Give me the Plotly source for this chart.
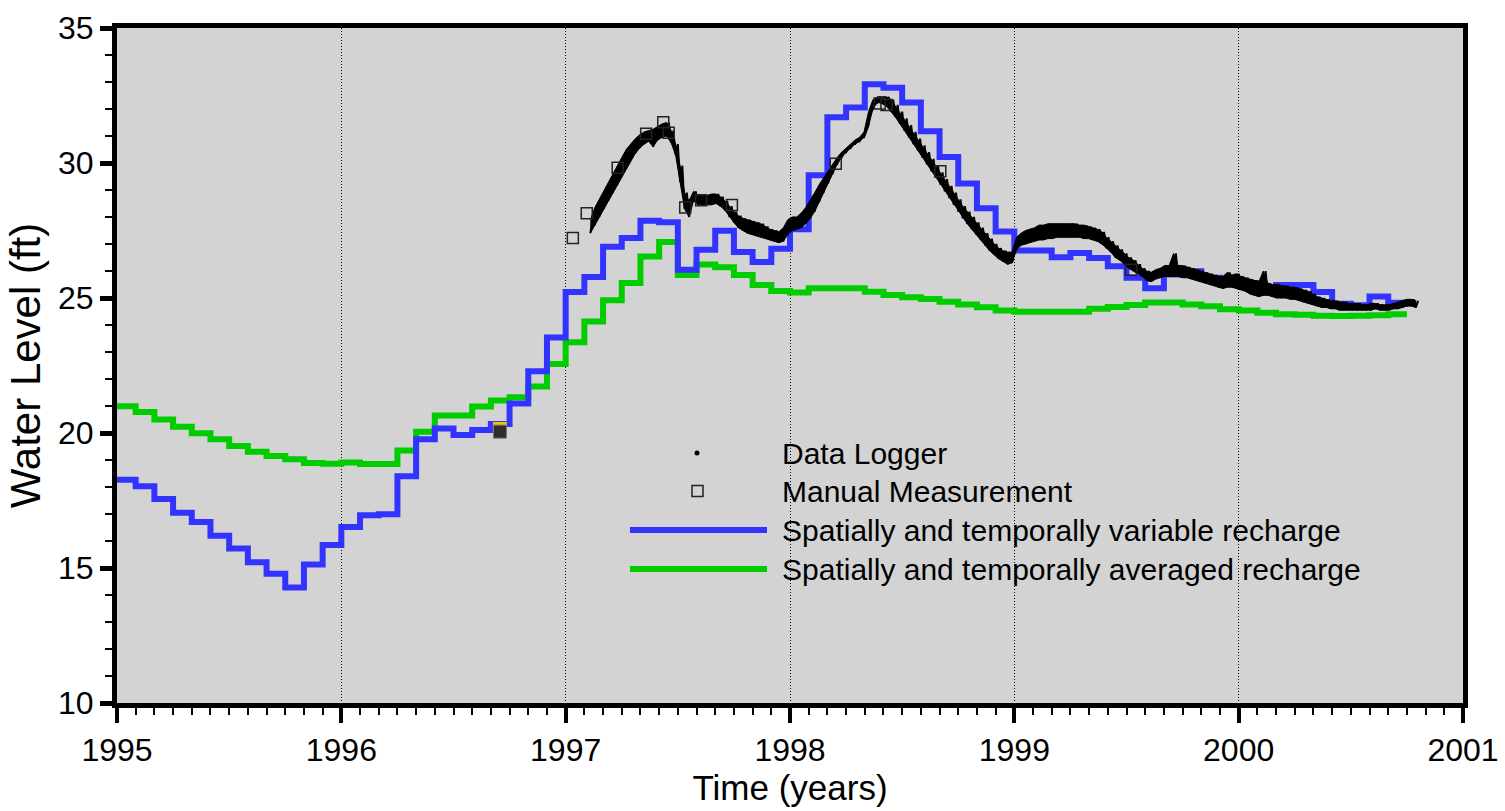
import plotly.graph_objects as go

# ---------------- data ----------------
years = [1995, 1996, 1997, 1998, 1999, 2000, 2001]

# monthly model stress periods, Jan 1995 .. Sep 2000 (value held for each month)
variable_recharge = [
    18.27, 18.03, 17.56, 17.05, 16.70, 16.19, 15.72, 15.21, 14.79, 14.28,
    15.13, 15.85, 16.52, 16.95, 16.99, 18.40, 19.77, 20.17, 19.93, 20.11,
    20.33, 21.09, 22.29, 23.54, 25.22, 25.78, 26.90, 27.22, 27.86, 27.81,
    26.05, 26.79, 27.49, 26.70, 26.33, 26.82, 27.55, 29.55, 31.69, 32.06,
    32.92, 32.79, 32.24, 31.18, 30.22, 29.24, 28.32, 27.46, 26.76, 26.76,
    26.51, 26.67, 26.48, 26.18, 25.75, 25.36, 25.87, 25.99, 25.75, 25.56,
    25.56, 25.28, 25.48, 25.48, 25.22, 24.79, 24.73, 25.06, 24.82]

averaged_recharge = [
    20.99, 20.78, 20.50, 20.23, 19.99, 19.77, 19.52, 19.31, 19.15, 19.03,
    18.89, 18.86, 18.91, 18.85, 18.85, 19.35, 20.05, 20.65, 20.65, 20.98,
    21.20, 21.32, 21.72, 22.56, 23.36, 24.13, 24.92, 25.56, 26.54, 27.07,
    25.85, 26.24, 26.14, 25.85, 25.48, 25.26, 25.20, 25.36, 25.36, 25.36,
    25.23, 25.11, 25.03, 24.96, 24.86, 24.76, 24.66, 24.54, 24.49, 24.49,
    24.49, 24.49, 24.60, 24.67, 24.74, 24.83, 24.83, 24.76, 24.69, 24.58,
    24.54, 24.45, 24.40, 24.38, 24.34, 24.33, 24.34, 24.36, 24.40]

# month start times (decimal years) plus the end of the last period
month_time = [1995 + m / 12 for m in range(len(variable_recharge) + 1)]

manual_time = [1997.032, 1997.094, 1997.232, 1997.359, 1997.435, 1997.459,
               1997.533, 1997.604, 1997.741, 1998.204, 1998.400, 1998.430,
               1998.670, 1999.520]
manual_level = [27.22, 28.14, 29.82, 31.08, 31.51, 31.12,
                28.35, 28.62, 28.44, 29.97, 32.20, 32.15,
                29.69, 26.05]

# highlighted (filled) measurement in late 1996
filled_time = [1996.707]
filled_level = [20.05]

# data logger record: lower / upper edge of the noisy trace every 0.02 yr,
# starting at 1997.11
logger_low = [
    # 1997.11 - 1997.99
    27.40, 27.70, 28.00, 28.30, 28.60, 28.90, 29.20, 29.50, 29.80, 30.10,
    30.35, 30.55, 30.70, 30.80, 30.60, 30.85, 30.95, 31.00, 30.75, 30.30,
    29.30, 28.30, 28.00, 28.60, 28.45, 28.45, 28.45, 28.45, 28.50, 28.40,
    28.25, 28.00, 27.80, 27.60, 27.50, 27.40, 27.35, 27.30, 27.25, 27.20,
    27.15, 27.10, 27.05, 27.10, 27.35,
    # 1998.01 - 1998.99
    27.50, 27.55, 27.60, 27.75, 27.95, 28.20, 28.55, 28.90, 29.25, 29.60,
    29.95, 30.20, 30.40, 30.55, 30.70, 30.80, 30.95, 31.40, 32.00, 32.25,
    32.20, 32.10, 31.90, 31.70, 31.45, 31.20, 30.95, 30.70, 30.45, 30.20,
    29.95, 29.70, 29.45, 29.20, 28.95, 28.70, 28.45, 28.20, 27.95, 27.75,
    27.55, 27.35, 27.15, 26.95, 26.75, 26.60, 26.45, 26.35, 26.25, 26.30,
    # 1999.01 - 1999.99
    26.80, 26.95, 27.00, 27.05, 27.10, 27.15, 27.15, 27.20, 27.20, 27.25,
    27.25, 27.25, 27.25, 27.25, 27.25, 27.20, 27.20, 27.15, 27.10, 27.00,
    26.85, 26.70, 26.50, 26.40, 26.25, 26.10, 26.00, 25.90, 25.80, 25.65,
    25.60, 25.70, 25.75, 25.80, 25.80, 25.80, 25.80, 25.75, 25.75, 25.70,
    25.65, 25.60, 25.55, 25.50, 25.45, 25.40, 25.35, 25.40, 25.40, 25.35,
    # 2000.01 - 2000.79
    25.30, 25.25, 25.15, 25.10, 25.05, 25.10, 25.10, 25.05, 25.00, 25.00,
    25.00, 24.95, 24.95, 24.90, 24.85, 24.80, 24.75, 24.70, 24.65, 24.65,
    24.60, 24.60, 24.55, 24.55, 24.55, 24.55, 24.55, 24.55, 24.55, 24.55,
    24.60, 24.55, 24.55, 24.55, 24.60, 24.60, 24.65, 24.70, 24.70, 24.65,
]
logger_high = [
    # 1997.11 - 1997.99
    27.90, 28.35, 28.70, 29.00, 29.30, 29.60, 29.90, 30.20, 30.50, 30.70,
    30.90, 31.05, 31.15, 31.20, 31.25, 31.35, 31.45, 31.50, 31.20, 30.70,
    29.90, 28.90, 28.60, 28.95, 28.80, 28.80, 28.80, 28.85, 28.85, 28.75,
    28.60, 28.40, 28.20, 28.05, 27.95, 27.90, 27.85, 27.80, 27.75, 27.65,
    27.55, 27.50, 27.45, 27.60, 27.90,
    # 1998.01 - 1998.99
    28.00, 28.00, 28.15, 28.35, 28.60, 28.90, 29.20, 29.45, 29.70, 29.95,
    30.20, 30.40, 30.55, 30.70, 30.85, 30.95, 31.15, 31.90, 32.35, 32.45,
    32.45, 32.45, 32.35, 32.15, 31.90, 31.65, 31.40, 31.15, 30.90, 30.65,
    30.40, 30.15, 29.90, 29.65, 29.40, 29.15, 28.90, 28.65, 28.40, 28.20,
    28.00, 27.80, 27.60, 27.40, 27.20, 27.00, 26.85, 26.75, 26.70, 26.70,
    # 1999.01 - 1999.99
    27.25, 27.40, 27.50, 27.55, 27.60, 27.70, 27.70, 27.75, 27.75, 27.75,
    27.75, 27.75, 27.75, 27.75, 27.70, 27.70, 27.65, 27.60, 27.55, 27.45,
    27.25, 27.10, 26.95, 26.80, 26.65, 26.50, 26.40, 26.25, 26.10, 26.00,
    25.95, 26.05, 26.10, 26.20, 26.20, 26.65, 26.20, 26.20, 26.15, 26.10,
    26.05, 26.00, 25.95, 25.90, 25.85, 25.80, 25.80, 25.95, 25.85, 25.90,
    # 2000.01 - 2000.79
    25.80, 25.75, 25.70, 25.65, 25.60, 26.00, 25.55, 25.50, 25.50, 25.45,
    25.45, 25.40, 25.40, 25.35, 25.30, 25.25, 25.15, 25.05, 25.00, 24.95,
    24.90, 24.90, 24.85, 24.85, 24.80, 24.80, 24.80, 24.75, 24.75, 24.80,
    24.80, 24.75, 24.75, 24.75, 24.80, 24.85, 24.90, 24.95, 24.95, 24.90,
]
logger_time = [round(1997.11 + 0.02 * i, 3) for i in range(len(logger_low))]
assert len(logger_low) == len(logger_high)

legend_labels = ["Data Logger", "Manual Measurement",
                 "Spatially and temporally variable recharge",
                 "Spatially and temporally averaged recharge"]

# logger drawn as a dense zig-zag between its lower and upper edges
logger_x, logger_y = [], []
for i, t in enumerate(logger_time):
    t_next = logger_time[i + 1] if i + 1 < len(logger_time) else t + 0.02
    logger_x += [t, (t + t_next) / 2]
    logger_y += [logger_low[i], logger_high[i]]

# ---------------- styling ----------------
BLUE = "#3333FF"
GREEN = "#00CC00"
BG = "#D3D3D3"
FONT = "Arial, Liberation Sans, sans-serif"

FIG_W, FIG_H = 1505, 811
M_L, M_R, M_T, M_B = 117, 42, 28, 108
PLOT_W = FIG_W - M_L - M_R
PLOT_H = FIG_H - M_T - M_B


def px_x(px):
    return (px - M_L) / PLOT_W


def px_y(py):
    return (FIG_H - M_B - py) / PLOT_H


fig = go.Figure()

fig.add_trace(go.Scatter(
    x=month_time, y=averaged_recharge + [averaged_recharge[-1]],
    mode="lines", line=dict(color=GREEN, width=6, shape="hv"),
    name=legend_labels[3]))
fig.add_trace(go.Scatter(
    x=month_time, y=variable_recharge + [variable_recharge[-1]],
    mode="lines", line=dict(color=BLUE, width=6, shape="hv"),
    name=legend_labels[2]))
# solid band between the logger's lower and upper edges
fig.add_trace(go.Scatter(
    x=logger_time + logger_time[::-1], y=logger_low + logger_high[::-1],
    mode="lines", fill="toself", fillcolor="black",
    line=dict(color="black", width=1), hoverinfo="skip", showlegend=False))
fig.add_trace(go.Scatter(
    x=logger_x, y=logger_y, mode="lines",
    line=dict(color="black", width=2), name=legend_labels[0]))
fig.add_trace(go.Scatter(
    x=manual_time, y=manual_level, mode="markers",
    marker=dict(symbol="square-open", size=11, color="#222222",
                line=dict(width=1.5)),
    name=legend_labels[1]))
fig.add_trace(go.Scatter(
    x=filled_time, y=[v + 0.1 for v in filled_level], mode="markers",
    marker=dict(symbol="square", size=14, color="#F2C200"),
    showlegend=False))
fig.add_trace(go.Scatter(
    x=filled_time, y=filled_level, mode="markers",
    marker=dict(symbol="square", size=13, color="#2E2E2E",
                line=dict(color="#777777", width=1)),
    showlegend=False))

# ---------------- custom legend ----------------
row_y = [453, 491, 530, 569]
shapes = [
    dict(type="rect", xref="paper", yref="paper", layer="between",
         x0=px_x(612), x1=px_x(1392), y0=px_y(614), y1=px_y(388),
         fillcolor=BG, line=dict(width=0)),
    dict(type="circle", xref="paper", yref="paper",
         x0=px_x(694.5), x1=px_x(699.5), y0=px_y(row_y[0] + 2.5),
         y1=px_y(row_y[0] - 2.5), fillcolor="black", line=dict(width=0)),
    dict(type="rect", xref="paper", yref="paper",
         x0=px_x(692), x1=px_x(703), y0=px_y(row_y[1] + 5.5),
         y1=px_y(row_y[1] - 5.5), line=dict(color="#222222", width=1.5)),
    dict(type="line", xref="paper", yref="paper",
         x0=px_x(630), x1=px_x(767), y0=px_y(row_y[2]), y1=px_y(row_y[2]),
         line=dict(color=BLUE, width=6)),
    dict(type="line", xref="paper", yref="paper",
         x0=px_x(630), x1=px_x(767), y0=px_y(row_y[3]), y1=px_y(row_y[3]),
         line=dict(color=GREEN, width=6)),
]
annotations = [
    dict(xref="paper", yref="paper", x=px_x(780), y=px_y(ry), text=lab,
         showarrow=False, xanchor="left", yanchor="middle",
         font=dict(family=FONT, size=30, color="black"))
    for lab, ry in zip(legend_labels, row_y)
]

fig.update_layout(
    width=FIG_W, height=FIG_H,
    margin=dict(l=M_L, r=M_R, t=M_T, b=M_B, autoexpand=False),
    paper_bgcolor="white", plot_bgcolor=BG,
    showlegend=False,
    font=dict(family=FONT, color="black"),
    shapes=shapes, annotations=annotations,
)

fig.update_xaxes(
    range=[years[0], years[-1]], tickmode="array", tickvals=years,
    ticktext=[str(y) for y in years], automargin=False,
    ticks="outside", ticklen=15, tickwidth=4, tickcolor="black",
    showline=True, linewidth=5, linecolor="black", mirror=True,
    showgrid=True, gridcolor="black", gridwidth=1, griddash="1px,2px",
    zeroline=False, tickfont=dict(family=FONT, size=32, color="black"),
    title=dict(text="Time (years)", font=dict(family=FONT, size=35),
               standoff=4),
    minor=dict(tick0=1995, dtick=1 / 12, ticks="outside", ticklen=7,
               tickwidth=1.5, tickcolor="black", showgrid=False),
)
fig.update_yaxes(
    range=[10, 35], tickmode="linear", tick0=10, dtick=5, automargin=False,
    ticks="outside", ticklen=12, tickwidth=5, tickcolor="black",
    showline=True, linewidth=5, linecolor="black", mirror=True,
    showgrid=False, zeroline=False,
    tickfont=dict(family=FONT, size=32, color="black"),
    title=dict(text="Water Level (ft)", font=dict(family=FONT, size=42),
               standoff=6),
    minor=dict(tick0=10, dtick=1, ticks="outside", ticklen=7,
               tickwidth=1.5, tickcolor="black", showgrid=False),
)

# remove the browser's default page margin so the figure fills the window
fig.write_html(
    "out.html",
    config={"displayModeBar": False},
    post_script="document.body.style.margin='0px';"
                "document.body.style.overflow='hidden';")
